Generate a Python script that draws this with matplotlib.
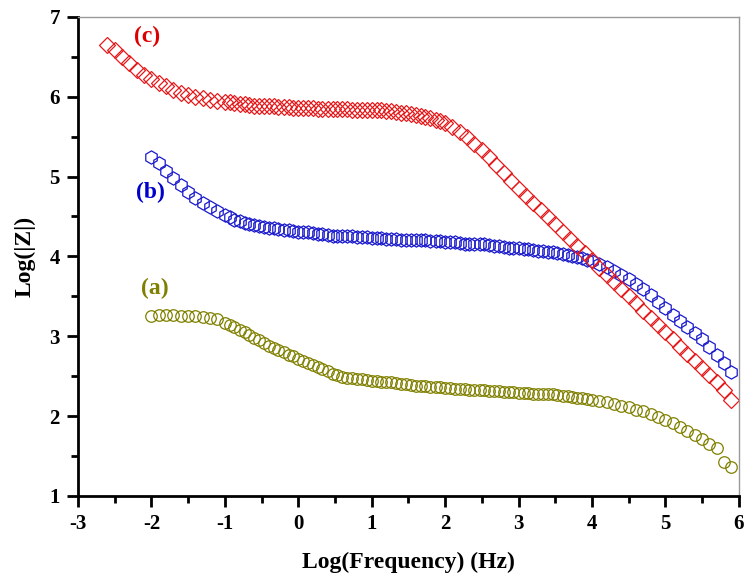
import matplotlib
matplotlib.use("Agg")
import matplotlib.pyplot as plt
from matplotlib.ticker import MultipleLocator

# log(frequency) grids (denser in the mid-frequency range, as in the measurement)
freq_low_ab = [-2.0, -1.9, -1.8, -1.7, -1.6, -1.5, -1.4, -1.3, -1.2, -1.1]
freq_low_c = [-2.6, -2.5, -2.4, -2.3, -2.2, -2.1, -2.0, -1.9, -1.8, -1.7, -1.6, -1.5, -1.4, -1.3, -1.2, -1.1]
freq_mid = [-1.00, -0.93, -0.87, -0.80, -0.73, -0.67, -0.60, -0.53, -0.47, -0.40, -0.33, -0.27, -0.20, -0.13, -0.07,
            0.00, 0.07, 0.13, 0.20, 0.27, 0.33, 0.40, 0.47, 0.53, 0.60, 0.67, 0.73, 0.80, 0.87, 0.93,
            1.00, 1.07, 1.13, 1.20, 1.27, 1.33, 1.40, 1.47, 1.53, 1.60, 1.67, 1.73, 1.80, 1.87, 1.93,
            2.00, 2.07, 2.13, 2.20, 2.27, 2.33, 2.40, 2.47, 2.53, 2.60, 2.67, 2.73, 2.80, 2.87, 2.93,
            3.00, 3.07, 3.13, 3.20, 3.27, 3.33, 3.40, 3.47, 3.53, 3.60, 3.67, 3.73, 3.80, 3.87, 3.93,
            4.00]
freq_high_ab = [4.1, 4.2, 4.3, 4.4, 4.5, 4.6, 4.7, 4.8, 4.9, 5.0, 5.1, 5.2, 5.3, 5.4, 5.5, 5.6, 5.7, 5.8, 5.9]
freq_high_c = [2.1, 2.2, 2.3, 2.4, 2.5, 2.6, 2.7, 2.8, 2.9, 3.0, 3.1, 3.2, 3.3, 3.4, 3.5, 3.6, 3.7, 3.8, 3.9,
               4.0, 4.1, 4.2, 4.3, 4.4, 4.5, 4.6, 4.7, 4.8, 4.9, 5.0, 5.1, 5.2, 5.3, 5.4, 5.5, 5.6, 5.7, 5.8, 5.9]

freq_ab = freq_low_ab + freq_mid + freq_high_ab
freq_c = freq_low_c + freq_mid[:46] + freq_high_c

# Log|Z| values
z_a = [3.25, 3.26, 3.26, 3.26, 3.25, 3.25, 3.25, 3.24, 3.23, 3.21,
       3.17, 3.14, 3.11, 3.08, 3.05, 3.01, 2.98, 2.95, 2.91, 2.88, 2.85, 2.83, 2.80, 2.77, 2.75,
       2.72, 2.69, 2.67, 2.64, 2.61, 2.59, 2.56, 2.53, 2.51, 2.49, 2.48, 2.47, 2.46, 2.46, 2.45,
       2.44, 2.44, 2.43, 2.42, 2.42, 2.41, 2.40, 2.40, 2.39, 2.38, 2.38, 2.37, 2.36, 2.36, 2.36,
       2.35, 2.35, 2.34, 2.34, 2.34, 2.33, 2.33, 2.33, 2.32, 2.31, 2.31, 2.31, 2.30, 2.30, 2.30,
       2.29, 2.29, 2.29, 2.28, 2.28, 2.27, 2.27, 2.27, 2.26, 2.25, 2.25, 2.24, 2.23, 2.23, 2.21,
       2.20,
       2.19, 2.17, 2.15, 2.13, 2.11, 2.08, 2.06, 2.03, 1.99, 1.95, 1.91, 1.86, 1.81, 1.76, 1.71,
       1.65, 1.60, 1.42, 1.36]
z_b = [5.25, 5.17, 5.07, 4.98, 4.89, 4.81, 4.73, 4.67, 4.62, 4.57,
       4.52, 4.49, 4.46, 4.44, 4.42, 4.40, 4.39, 4.38, 4.37, 4.35, 4.35, 4.34, 4.33, 4.33, 4.32,
       4.31, 4.30, 4.30, 4.29, 4.28, 4.28, 4.27, 4.26, 4.26, 4.25, 4.25, 4.25, 4.24, 4.24, 4.24,
       4.23, 4.23, 4.23, 4.22, 4.22, 4.22, 4.21, 4.21, 4.21, 4.20, 4.20, 4.20, 4.19, 4.19, 4.19,
       4.18, 4.18, 4.18, 4.17, 4.16, 4.16, 4.16, 4.15, 4.15, 4.14, 4.13, 4.13, 4.12, 4.11, 4.11,
       4.10, 4.09, 4.09, 4.08, 4.07, 4.07, 4.06, 4.05, 4.04, 4.03, 4.02, 4.01, 3.99, 3.98, 3.96,
       3.94,
       3.91, 3.87, 3.82, 3.77, 3.72, 3.66, 3.59, 3.51, 3.43, 3.35, 3.27, 3.19, 3.12, 3.04, 2.96,
       2.86, 2.76, 2.66, 2.55]
z_c = [6.65, 6.58, 6.50, 6.42, 6.34, 6.27, 6.22, 6.17, 6.13, 6.09, 6.05, 6.02, 6.00, 5.98, 5.96, 5.95,
       5.93, 5.93, 5.92, 5.91, 5.91, 5.90, 5.89, 5.89, 5.88, 5.88, 5.88, 5.87, 5.87, 5.87, 5.86,
       5.86, 5.86, 5.86, 5.86, 5.85, 5.85, 5.85, 5.85, 5.85, 5.85, 5.85, 5.84, 5.84, 5.84, 5.84,
       5.83, 5.83, 5.83, 5.82, 5.82, 5.81, 5.80, 5.80, 5.79, 5.77, 5.76, 5.75, 5.73, 5.71, 5.69,
       5.67,
       5.62, 5.56, 5.49, 5.41, 5.33, 5.24, 5.14, 5.04, 4.94, 4.85, 4.76, 4.67, 4.58, 4.49, 4.40,
       4.31, 4.22, 4.13, 4.04, 3.95, 3.86, 3.77, 3.68, 3.59, 3.50, 3.41, 3.32, 3.23, 3.14, 3.05,
       2.96, 2.87, 2.78, 2.69, 2.60, 2.51, 2.42, 2.32, 2.20]

labels = ['(a)', '(b)', '(c)']
label_pos = [(-1.95, 3.6), (-2.02, 4.8), (-2.06, 6.75)]
colors = ['#808000', '#1a1acc', '#e41a1c']
label_colors = ['#808000', '#0000cc', '#dd0000']

plt.rcParams['font.family'] = ['Liberation Serif', 'DejaVu Serif']
plt.rcParams['font.weight'] = 'bold'
plt.rcParams['axes.unicode_minus'] = False

fig = plt.figure(figsize=(7.5, 5.84), dpi=100)
ax = fig.add_axes([0.104, 0.151, 0.881, 0.820])

ax.plot(freq_ab, z_a, linestyle='none', marker='o', markersize=8.3, markerfacecolor='none',
        markeredgecolor=colors[0], markeredgewidth=0.9)
ax.plot(freq_ab, z_b, linestyle='none', marker='h', markersize=9.5, markerfacecolor='none',
        markeredgecolor=colors[1], markeredgewidth=0.9)
ax.plot(freq_c, z_c, linestyle='none', marker='D', markersize=8.5, markerfacecolor='none',
        markeredgecolor=colors[2], markeredgewidth=0.9)

for lab, (lx, ly), c in zip(labels, label_pos, label_colors):
    ax.text(lx, ly, lab, color=c, fontsize=17, fontweight='bold', ha='center', va='center')

ax.set_xlim(-3, 6)
ax.set_ylim(1, 7)
ax.xaxis.set_major_locator(MultipleLocator(1))
ax.xaxis.set_minor_locator(MultipleLocator(0.5))
ax.yaxis.set_major_locator(MultipleLocator(1))
ax.yaxis.set_minor_locator(MultipleLocator(0.5))
ax.tick_params(which='major', direction='out', length=8, width=2, labelsize=15, pad=5)
ax.tick_params(which='minor', direction='out', length=5, width=2)
ax.tick_params(top=False, right=False, which='both')

for side in ['left', 'bottom']:
    ax.spines[side].set_linewidth(2)
    ax.spines[side].set_color('black')
for side in ['top', 'right']:
    ax.spines[side].set_linewidth(1)
    ax.spines[side].set_color('#999999')

ax.set_xlabel('Log(Frequency) (Hz)', fontsize=17, fontweight='bold', labelpad=13)
ax.set_ylabel('Log(|Z|)', fontsize=17, fontweight='bold', labelpad=10)

fig.savefig('out.png', dpi=100)
